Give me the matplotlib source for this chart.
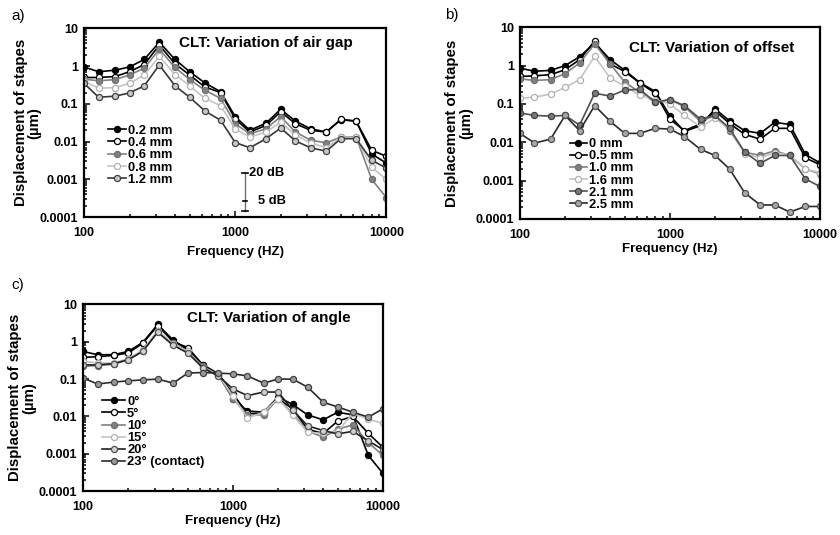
import matplotlib
matplotlib.use('Agg')
import matplotlib.pyplot as plt
from matplotlib.ticker import FixedLocator, LogLocator, NullFormatter

plt.rcParams['font.family'] = ['Liberation Sans', 'DejaVu Sans']
plt.rcParams['font.weight'] = 'bold'

# 1/3 octave frequencies (Hz)
freqs = [100, 125, 160, 200, 250, 315, 400, 500, 630, 800, 1000,
         1250, 1600, 2000, 2500, 3150, 4000, 5000, 6300, 8000, 10000]

# a) variation of air gap (um)
gap_labels = ['0.2 mm', '0.4 mm', '0.6 mm', '0.8 mm', '1.2 mm']
gap_02 = [0.95, 0.71, 0.78, 0.95, 1.5, 4.3, 1.5, 0.71, 0.36, 0.21, 0.046,
          0.020, 0.031, 0.072, 0.035, 0.022, 0.018, 0.038, 0.035, 0.0047, 0.0027]
gap_04 = [0.5, 0.5, 0.53, 0.71, 1.1, 3.6, 1.15, 0.58, 0.28, 0.2, 0.04,
          0.018, 0.027, 0.062, 0.030, 0.020, 0.018, 0.039, 0.035, 0.0059, 0.0041]
gap_06 = [0.45, 0.41, 0.44, 0.58, 0.88, 2.8, 0.92, 0.44, 0.23, 0.14, 0.03,
          0.016, 0.022, 0.046, 0.018, 0.011, 0.0093, 0.0133, 0.0133, 0.001, 0.00033]
gap_08 = [0.4, 0.26, 0.27, 0.35, 0.58, 1.8, 0.6, 0.3, 0.14, 0.09, 0.022,
          0.0133, 0.018, 0.033, 0.015, 0.0093, 0.0069, 0.013, 0.013, 0.0021, 0.001]
gap_12 = [0.35, 0.15, 0.16, 0.195, 0.3, 1.07, 0.3, 0.15, 0.065, 0.037, 0.0095,
          0.0069, 0.012, 0.023, 0.0105, 0.0069, 0.0056, 0.012, 0.012, 0.0032, 0.002]

# b) variation of offset (um)
off_labels = ['0 mm', '0.5 mm', '1.0 mm', '1.6 mm', '2.1 mm', '2.5 mm']
off_00 = [0.86, 0.71, 0.75, 1.0, 1.7, 3.9, 1.43, 0.75, 0.36, 0.21, 0.049,
          0.019, 0.027, 0.074, 0.036, 0.020, 0.017, 0.033, 0.029, 0.0048, 0.0029]
off_05 = [0.52, 0.54, 0.58, 0.78, 1.43, 4.4, 1.1, 0.7, 0.35, 0.19, 0.04,
          0.02, 0.03, 0.065, 0.031, 0.016, 0.012, 0.023, 0.023, 0.0039, 0.0026]
off_10 = [0.45, 0.41, 0.43, 0.62, 1.17, 3.7, 1.1, 0.37, 0.2, 0.11, 0.13,
          0.085, 0.035, 0.05, 0.02, 0.0055, 0.0045, 0.006, 0.0045, 0.002, 0.0015]
off_16 = [0.14, 0.15, 0.18, 0.27, 0.43, 1.75, 0.47, 0.29, 0.17, 0.13, 0.1,
          0.05, 0.025, 0.042, 0.022, 0.005, 0.0039, 0.0053, 0.0047, 0.002, 0.0016]
off_21 = [0.058, 0.05, 0.048, 0.05, 0.028, 0.19, 0.16, 0.23, 0.24, 0.11, 0.13,
          0.09, 0.04, 0.05, 0.023, 0.0055, 0.0028, 0.0045, 0.0045, 0.0011, 0.0007]
off_25 = [0.017, 0.0095, 0.012, 0.05, 0.02, 0.09, 0.035, 0.017, 0.017, 0.023, 0.022,
          0.014, 0.0065, 0.0045, 0.002, 0.00048, 0.00023, 0.00023, 0.00015, 0.00021, 0.00021]

# c) variation of angle (um)
ang_labels = ['0°', '5°', '10°', '15°', '20°', '23° (contact)']
ang_00 = [0.55, 0.45, 0.45, 0.55, 0.95, 2.9, 1.1, 0.6, 0.24, 0.13, 0.03,
          0.014, 0.013, 0.033, 0.021, 0.011, 0.0081, 0.013, 0.011, 0.0009, 0.0003]
ang_05 = [0.38, 0.4, 0.43, 0.5, 0.9, 2.7, 1.0, 0.7, 0.24, 0.14, 0.04,
          0.012, 0.012, 0.03, 0.016, 0.0045, 0.0035, 0.0075, 0.01, 0.0035, 0.0015]
ang_10 = [0.22, 0.23, 0.25, 0.33, 0.55, 1.9, 0.9, 0.55, 0.22, 0.13, 0.03,
          0.011, 0.011, 0.03, 0.012, 0.004, 0.0028, 0.0045, 0.006, 0.002, 0.0009]
ang_15 = [0.3, 0.27, 0.27, 0.35, 0.6, 2.0, 0.85, 0.55, 0.2, 0.13, 0.035,
          0.009, 0.013, 0.03, 0.011, 0.0038, 0.0035, 0.004, 0.012, 0.0085, 0.0065]
ang_20 = [0.24, 0.24, 0.26, 0.33, 0.55, 1.8, 0.8, 0.5, 0.2, 0.12, 0.055,
          0.036, 0.045, 0.045, 0.015, 0.0056, 0.0042, 0.0034, 0.004, 0.0022, 0.0013]
ang_23 = [0.107, 0.074, 0.083, 0.09, 0.095, 0.1, 0.078, 0.145, 0.15, 0.145, 0.138,
          0.122, 0.078, 0.1, 0.1, 0.061, 0.024, 0.018, 0.013, 0.0096, 0.016]

# line colour, marker face, marker edge for each curve (same order in all panels)
styles_a = [('black', 'black', 'black'),
            ('black', 'white', 'black'),
            ('#808080', '#808080', '#707070'),
            ('#c4c4c4', 'white', '#b0b0b0'),
            ('#383838', '#c8c8c8', '#404040')]
styles_b = styles_a[:4] + [('#505050', '#7a7a7a', '#404040'),
                           ('#2a2a2a', '#a8a8a8', '#505050')]
styles_c = styles_a[:4] + [('#202020', '#d0d0d0', '#505050'),
                           ('#2a2a2a', '#9a9a9a', '#404040')]


def style_axis(ax, xlab, ylab_x, xlab_y):
    ax.set_xscale('log')
    ax.set_yscale('log')
    ax.set_xlim(100, 10000)
    ax.set_ylim(0.0001, 10)
    ax.xaxis.set_major_locator(FixedLocator([100, 1000, 10000]))
    ax.xaxis.set_minor_locator(LogLocator(base=10, subs=range(2, 10)))
    ax.yaxis.set_major_locator(FixedLocator([0.0001, 0.001, 0.01, 0.1, 1, 10]))
    ax.yaxis.set_minor_locator(LogLocator(base=10, subs=range(2, 10)))
    ax.xaxis.set_minor_formatter(NullFormatter())
    ax.yaxis.set_minor_formatter(NullFormatter())
    ax.set_xticklabels(['100', '1000', '10000'])
    ax.set_yticklabels(['0.0001', '0.001', '0.01', '0.1', '1', '10'])
    ax.tick_params(which='both', direction='in', labelsize=9, width=1.1)
    ax.tick_params(which='major', length=4, pad=4)
    ax.tick_params(axis='x', which='major', pad=7)
    ax.tick_params(which='minor', length=2.5)
    for sp in ax.spines.values():
        sp.set_linewidth(1.6)
    ax.set_xlabel(xlab, fontsize=9.5, fontweight='bold')
    ax.xaxis.set_label_coords(0.5, xlab_y)
    ax.set_ylabel('Displacement of stapes\n(µm)', fontsize=10.8,
                  fontweight='bold', linespacing=0.95)
    ax.yaxis.set_label_coords(ylab_x, 0.5)


def draw(ax, series, labels, styles):
    for vals, lab, (lc, mf, me) in zip(series, labels, styles):
        ax.plot(freqs, vals, color=lc, lw=1.2, marker='o', markersize=4.4,
                markerfacecolor=mf, markeredgecolor=me, markeredgewidth=0.9,
                label=lab)


fig = plt.figure(figsize=(8.4, 5.35), dpi=100)

# a) air gap
ax_a = fig.add_axes([0.100, 0.594, 0.360, 0.353])
draw(ax_a, [gap_02, gap_04, gap_06, gap_08, gap_12], gap_labels, styles_a)
style_axis(ax_a, 'Frequency (HZ)', -0.142, -0.15)
ax_a.text(0.6, 0.92, 'CLT: Variation of air gap', transform=ax_a.transAxes,
          ha='center', va='center', fontsize=11, fontweight='bold')
ax_a.legend(loc='upper left', bbox_to_anchor=(0.08, 0.49), frameon=False,
            fontsize=9.3, handlelength=1.4, handletextpad=0.15,
            labelspacing=0.02, borderpad=0, borderaxespad=0)

# 20 dB / 5 dB scale bar
bar_f = 1165
bar_lo, bar_hi = 0.00015, 0.0015
bar_mid = bar_lo * 10 ** 0.25
ax_a.plot([bar_f, bar_f], [bar_lo, bar_hi], color='#707070', lw=1.0)
ax_a.plot([bar_f * 0.955, bar_f * 1.05], [bar_hi, bar_hi], color='black', lw=1.2)
ax_a.plot([bar_f * 0.965, bar_f * 1.035], [bar_mid, bar_mid], color='black', lw=1.2)
ax_a.plot([bar_f * 0.955, bar_f * 1.05], [bar_lo, bar_lo], color='black', lw=1.2)
ax_a.text(bar_f * 1.06, bar_hi, '20 dB', fontsize=9.3, fontweight='bold',
          va='center', ha='left')
ax_a.text(bar_f * 1.22, bar_mid, '5 dB', fontsize=9.3, fontweight='bold',
          va='center', ha='left')

# b) offset
ax_b = fig.add_axes([0.619, 0.591, 0.357, 0.358])
draw(ax_b, [off_00, off_05, off_10, off_16, off_21, off_25], off_labels, styles_b)
style_axis(ax_b, 'Frequency (Hz)', -0.157, -0.128)
ax_b.text(0.64, 0.89, 'CLT: Variation of offset', transform=ax_b.transAxes,
          ha='center', va='center', fontsize=11, fontweight='bold')
ax_b.legend(loc='upper left', bbox_to_anchor=(0.167, 0.42), frameon=False,
            fontsize=9.3, handlelength=1.3, handletextpad=0.15,
            labelspacing=0.0, borderpad=0, borderaxespad=0)

# c) angle
ax_c = fig.add_axes([0.0988, 0.082, 0.357, 0.349])
draw(ax_c, [ang_00, ang_05, ang_10, ang_15, ang_20, ang_23], ang_labels, styles_c)
style_axis(ax_c, 'Frequency (Hz)', -0.157, -0.128)
ax_c.text(0.62, 0.925, 'CLT: Variation of angle', transform=ax_c.transAxes,
          ha='center', va='center', fontsize=11, fontweight='bold')
ax_c.legend(loc='upper left', bbox_to_anchor=(0.065, 0.51), frameon=False,
            fontsize=9.3, handlelength=1.75, handletextpad=0.15,
            labelspacing=0.0, borderpad=0, borderaxespad=0)

# panel letters
fig.text(0.013, 0.970, 'a)', fontsize=11, fontweight='normal', va='center')
fig.text(0.530, 0.972, 'b)', fontsize=11, fontweight='normal', va='center')
fig.text(0.013, 0.467, 'c)', fontsize=11, fontweight='normal', va='center')

fig.savefig('out.png', dpi=100)
